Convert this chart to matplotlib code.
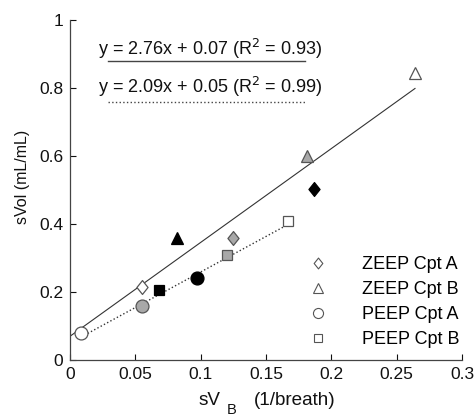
import matplotlib
matplotlib.use("Agg")
import matplotlib.pyplot as plt
from matplotlib.lines import Line2D
from matplotlib.path import Path

plt.rcParams['font.family'] = ['Liberation Sans', 'DejaVu Sans']

# Data: each group lists white, gray, black points
zeep_a_x = [0.055, 0.125, 0.187]
zeep_a_y = [0.215, 0.36, 0.503]
zeep_b_x = [0.264, 0.181, 0.082]
zeep_b_y = [0.845, 0.60, 0.36]
peep_a_x = [0.0085, 0.055, 0.097]
peep_a_y = [0.078, 0.16, 0.24]
peep_b_x = [0.167, 0.120, 0.068]
peep_b_y = [0.41, 0.31, 0.206]
fills = ['white', '#a8a8a8', 'black']

fit1_slope, fit1_int, fit1_r2 = 2.76, 0.07, 0.93
fit1_range = [0.0, 0.264]
fit2_slope, fit2_int, fit2_r2 = 2.09, 0.05, 0.99
fit2_range = [0.0085, 0.167]

diamond = Path([(0, 1), (0.8, 0), (0, -1), (-0.8, 0), (0, 1)],
               [Path.MOVETO, Path.LINETO, Path.LINETO, Path.LINETO, Path.CLOSEPOLY])

series = [
    ("ZEEP Cpt A", zeep_a_x, zeep_a_y, diamond, 10),
    ("ZEEP Cpt B", zeep_b_x, zeep_b_y, '^', 8.7),
    ("PEEP Cpt A", peep_a_x, peep_a_y, 'o', 9.3),
    ("PEEP Cpt B", peep_b_x, peep_b_y, 's', 6.8),
]

fig = plt.figure(figsize=(4.77, 4.17), dpi=100)
ax = fig.add_axes([0.147, 0.1367, 0.8216, 0.8153])

lc = '#333333'
ax.plot(fit1_range, [fit1_slope * v + fit1_int for v in fit1_range], '-', color=lc, lw=0.8, zorder=1)
ax.plot(fit2_range, [fit2_slope * v + fit2_int for v in fit2_range], ':', color=lc, lw=1.0, zorder=1)

for name, xs, ys, m, ms in series:
    for x, y, f in zip(xs, ys, fills):
        ec = '#555555' if f != 'black' else 'black'
        ax.plot([x], [y], marker=m, ms=ms, mfc=f, mec=ec, mew=0.9, ls='none', zorder=3)

handles = [Line2D([], [], marker=m, ms=ms * 0.78, mfc='white', mec='#555555', mew=0.8, ls='none')
           for _, _, _, m, ms in series]
labels = [s[0] for s in series]
ax.legend(handles, labels, loc='upper left', bbox_to_anchor=(0.587, 0.306), frameon=False,
          fontsize=13, handlelength=2.0, handletextpad=1.45, labelspacing=0.45,
          borderpad=0, borderaxespad=0)

ax.text(0.1075, 0.897, f"y = {fit1_slope:.2f}x + {fit1_int:.2f} (R$^2$ = {fit1_r2:.2f})",
        ha='center', va='baseline', fontsize=13, color='#111111')
ax.plot([0.029, 0.180], [0.879, 0.879], '-', color='#444444', lw=1.0)
ax.text(0.1075, 0.785, f"y = {fit2_slope:.2f}x + {fit2_int:.2f} (R$^2$ = {fit2_r2:.2f})",
        ha='center', va='baseline', fontsize=13, color='#111111')
ax.plot([0.029, 0.180], [0.759, 0.759], ':', color='#444444', lw=1.0)

ax.set_xlim(0, 0.3)
ax.set_ylim(0, 1)
ax.set_xticks([0, 0.05, 0.1, 0.15, 0.2, 0.25, 0.3])
ax.set_xticklabels(['0', '0.05', '0.1', '0.15', '0.2', '0.25', '0.3'])
ax.set_yticks([0, 0.2, 0.4, 0.6, 0.8, 1])
ax.set_yticklabels(['0', '0.2', '0.4', '0.6', '0.8', '1'])
ax.tick_params(direction='in', length=4, labelsize=12.5, colors='#111111', width=0.8, pad=5)
for s in ['top', 'right']:
    ax.spines[s].set_visible(False)
for s in ['left', 'bottom']:
    ax.spines[s].set_color('#444444')
    ax.spines[s].set_linewidth(0.9)

# x label with near full-size lowered subscript
xl_kw = dict(transform=ax.transAxes, va='baseline', ha='left', clip_on=False, color='#111111')
ax.text(0.3265, -0.1324, 'sV', fontsize=13.6, **xl_kw)
ax.text(0.3995, -0.158, 'B', fontsize=10.5, **xl_kw)
ax.text(0.468, -0.1324, '(1/breath)', fontsize=13.6, **xl_kw)

ax.set_ylabel('sVol (mL/mL)', fontsize=11.5, color='#111111')
ax.yaxis.set_label_coords(-0.102, 0.54)

fig.savefig('out.png', dpi=100)
